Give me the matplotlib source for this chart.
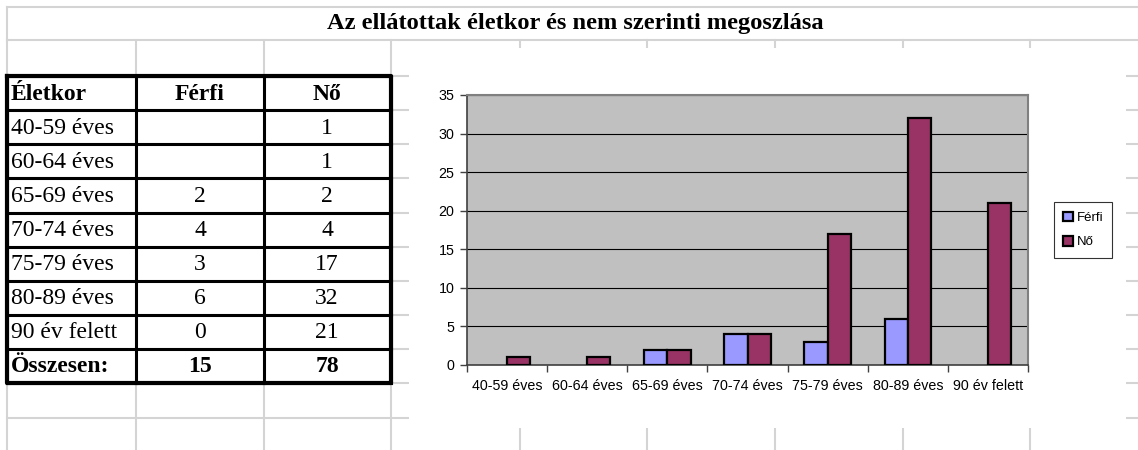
import numpy as np
import matplotlib
matplotlib.use("Agg")
import matplotlib.pyplot as plt
from matplotlib.patches import Rectangle

# data
korok = ["40-59 éves", "60-64 éves", "65-69 éves", "70-74 éves",
         "75-79 éves", "80-89 éves", "90 év felett"]
ferfi = [None, None, 2, 4, 3, 6, 0]
no = [1, 1, 2, 4, 17, 32, 21]
fejlec = ["Életkor", "Férfi", "Nő"]
cim = "Az ellátottak életkor és nem szerinti megoszlása"

W, H = 1138, 450
fig = plt.figure(figsize=(W / 100, H / 100), dpi=100)
fig.patch.set_facecolor("white")

# sheet layer in pixel coords
bg = fig.add_axes([0, 0, 1, 1])
bg.set_xlim(0, W)
bg.set_ylim(H, 0)
bg.axis("off")

gridc = "#d4d4d4"
cols = [7, 136, 264, 391, 520, 647, 775, 903, 1030]
rows = [76, 110, 144, 178, 213, 247, 281, 315, 349, 383, 418]
bg.plot([7, W], [7, 7], color=gridc, lw=1.5)
bg.plot([7, W], [40, 40], color=gridc, lw=1.5)
bg.plot([7, 7], [7, 40], color=gridc, lw=1.5)
for x in cols:
    bg.plot([x, x], [40, H], color=gridc, lw=1.5)
for y in rows:
    bg.plot([7, W], [y, y], color=gridc, lw=1.5)

# chart object covers the cells
bg.add_patch(Rectangle((409, 48), 1126 - 409, 428 - 48, facecolor="white",
                       edgecolor="none", zorder=3))

bg.text(575, 24, cim, family="Liberation Serif", weight="bold", fontsize=17.6,
        ha="center", va="center", zorder=4)

# table
serif = "Liberation Serif"
t_rows = [76, 110, 144, 178, 213, 247, 281, 315, 349, 383]
t_cols = [7, 136, 264, 391]
for y in t_rows:
    bg.plot([7, 391], [y, y], color="black", lw=2.2, zorder=5, solid_capstyle="projecting")
for x in t_cols:
    bg.plot([x, x], [76, 383], color="black", lw=2.2, zorder=5, solid_capstyle="projecting")
bg.plot([7, 391, 391, 7, 7], [76, 76, 383, 383, 76], color="black", lw=3, zorder=5)

def ycen(i):
    return (t_rows[i] + t_rows[i + 1]) / 2 + 1

fs = 17
bg.text(11, ycen(0), fejlec[0], family=serif, weight="bold", fontsize=fs, va="center", zorder=6)
bg.text(200, ycen(0), fejlec[1], family=serif, weight="bold", fontsize=fs, ha="center", va="center", zorder=6)
bg.text(327, ycen(0), fejlec[2], family=serif, weight="bold", fontsize=fs, ha="center", va="center", zorder=6)
for i, k in enumerate(korok):
    bg.text(11, ycen(i + 1), k, family=serif, fontsize=fs, va="center", zorder=6)
    if ferfi[i] is not None:
        bg.text(200, ycen(i + 1), str(ferfi[i]), family=serif, fontsize=fs, ha="center", va="center", zorder=6)
    bg.text(327, ycen(i + 1), str(no[i]), family=serif, fontsize=fs, ha="center", va="center", zorder=6)
osszf = sum(v for v in ferfi if v is not None)
osszn = sum(no)
bg.text(11, ycen(8), "Összesen:", family=serif, weight="bold", fontsize=fs, va="center", zorder=6)
bg.text(200, ycen(8), str(osszf), family=serif, weight="bold", fontsize=fs, ha="center", va="center", zorder=6)
bg.text(327, ycen(8), str(osszn), family=serif, weight="bold", fontsize=fs, ha="center", va="center", zorder=6)

# chart
x0, x1, yt, yb = 467, 1028, 95, 365
ax = fig.add_axes([x0 / W, 1 - yb / H, (x1 - x0) / W, (yb - yt) / H], zorder=10)
ax.set_facecolor("#c0c0c0")
x = np.arange(len(korok))
w = 0.29
fv = [np.nan if (v is None or v == 0) else v for v in ferfi]
ax.bar(x - w / 2, fv, w, color="#9999ff", edgecolor="black", linewidth=1.6, label="Férfi", zorder=3)
ax.bar(x + w / 2, no, w, color="#993366", edgecolor="black", linewidth=1.6, label="Nő", zorder=3)
ax.set_xlim(-0.5, len(korok) - 0.5)
ax.set_ylim(0, 35)
ax.set_yticks(range(0, 36, 5))
ax.yaxis.grid(True, color="black", lw=0.8)
ax.set_axisbelow(True)
ax.set_xticks(x)
ax.set_xticklabels(korok)
ax.set_xticks(np.arange(-0.5, len(korok), 1), minor=True)
ax.tick_params(axis="x", which="major", length=0, pad=10)
ax.tick_params(axis="x", which="minor", length=5, width=1, color="#404040", direction="out")
ax.tick_params(axis="y", length=5, width=1, color="#404040", pad=4)
for lab in ax.get_xticklabels() + ax.get_yticklabels():
    lab.set_family("Liberation Sans")
    lab.set_fontsize(10.3)
for s in ["top", "right"]:
    ax.spines[s].set_color("#808080")
    ax.spines[s].set_linewidth(1.5)
for s in ["left", "bottom"]:
    ax.spines[s].set_color("#404040")
    ax.spines[s].set_linewidth(1.2)

leg = fig.legend(loc="center", bbox_to_anchor=(1083 / W, 1 - 230 / H),
                 prop={"family": "Liberation Sans", "size": 9.5}, frameon=True,
                 fancybox=False, handlelength=0.75, handleheight=0.75,
                 handletextpad=0.3, labelspacing=0.9, borderpad=0.7)
leg.get_frame().set_edgecolor("black")
leg.get_frame().set_linewidth(0.8)

fig.savefig("out.png", dpi=100)
